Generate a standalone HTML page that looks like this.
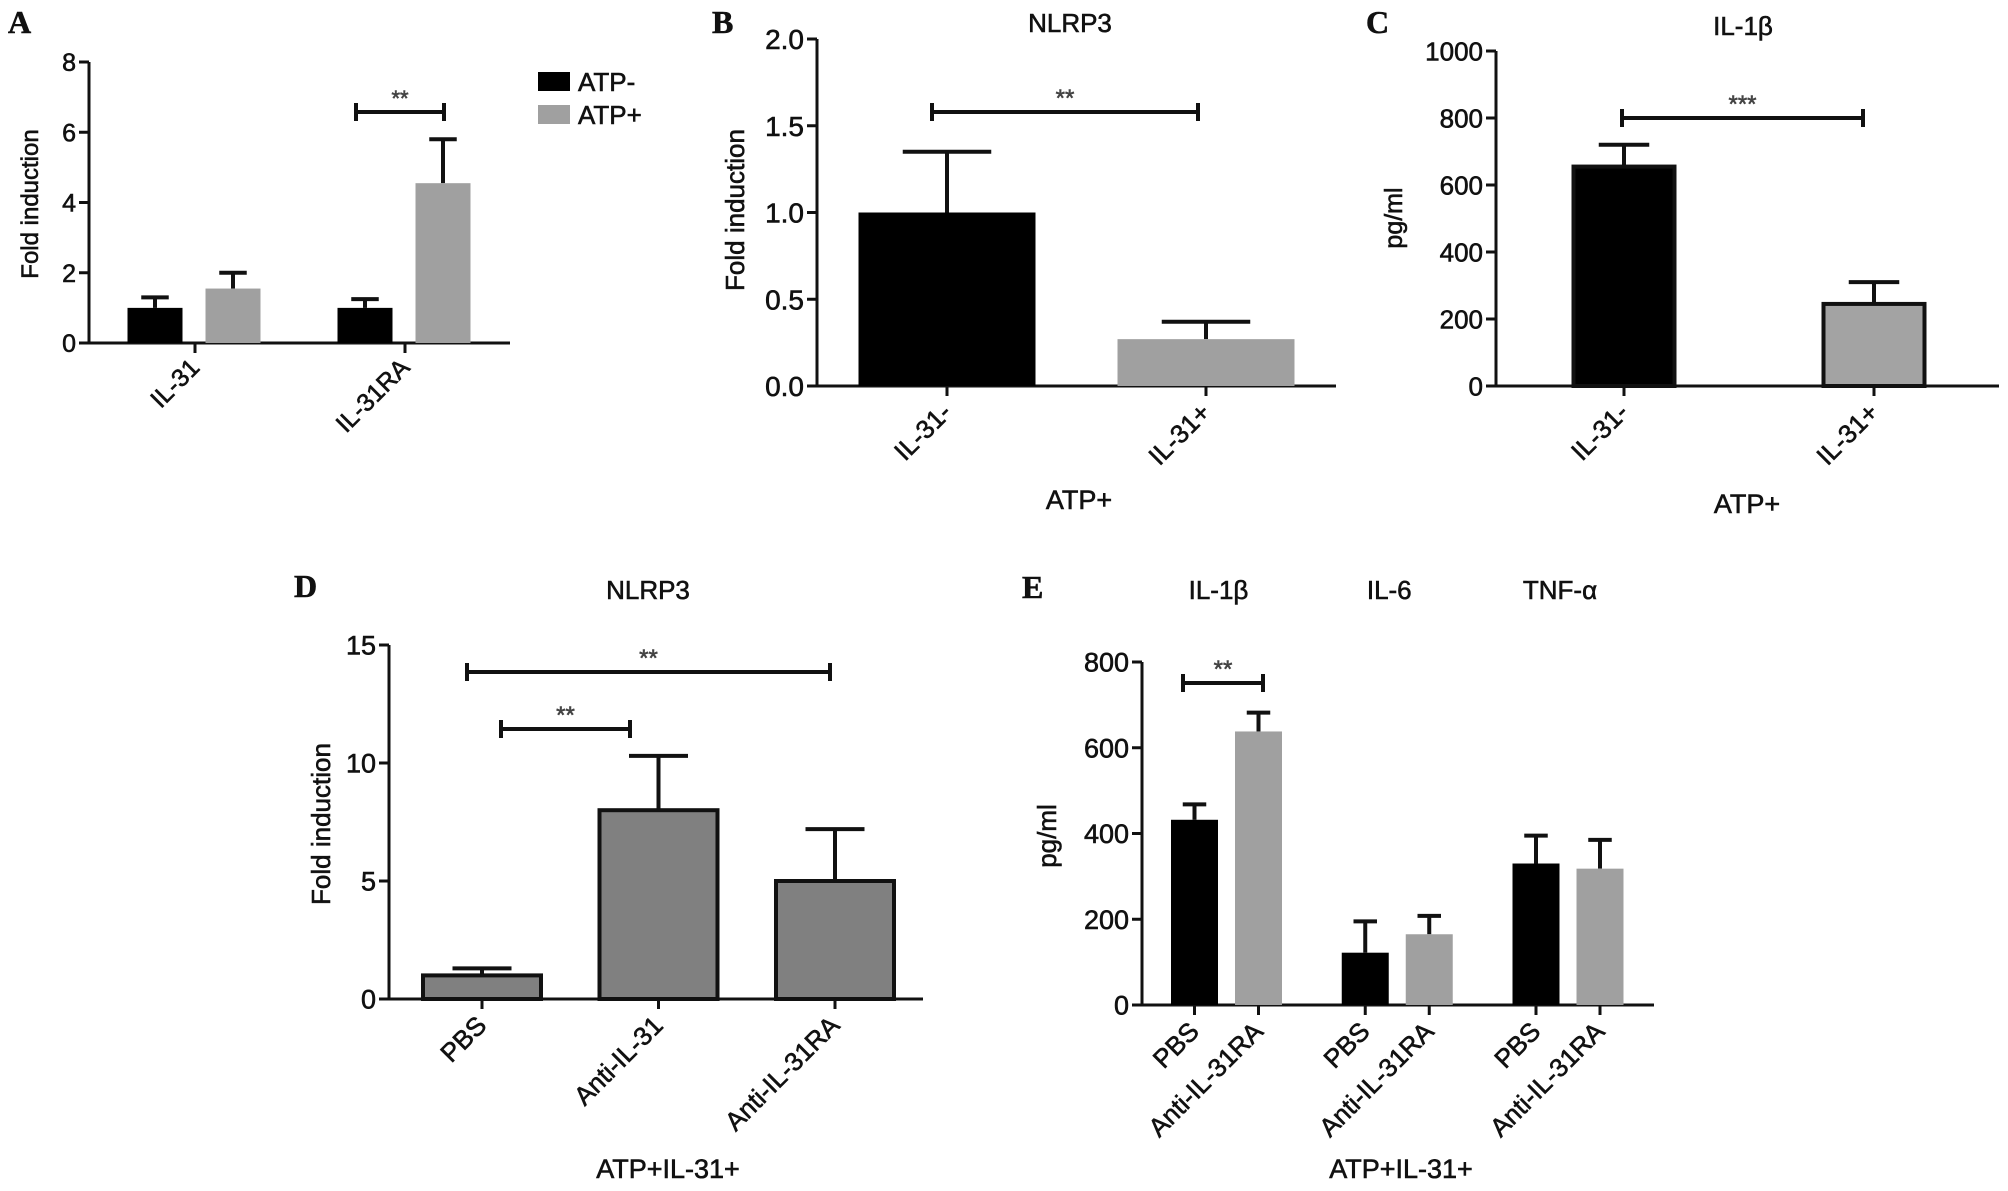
<!DOCTYPE html>
<html><head><meta charset="utf-8"><style>
html,body{margin:0;padding:0;background:#fff;}
svg{display:block;font-family:"Liberation Sans",Arial,sans-serif;}
svg text{stroke:#111;stroke-width:0.6px;}
</style></head><body>
<svg id="fig" width="2008" height="1191" viewBox="0 0 2008 1191" xmlns="http://www.w3.org/2000/svg"></svg>
<script>
// Panel A data
const aCategories = ["IL-31", "IL-31RA"];
const aSeries = ["ATP-", "ATP+"];
const aMinus = [1.0, 1.0];
const aMinusErr = [1.3, 1.25];
const aPlus = [1.55, 4.55];
const aPlusErr = [2.0, 5.8];
const aTicks = [0, 2, 4, 6, 8];
// Panel B data
const bCategories = ["IL-31-", "IL-31+"];
const bValues = [1.0, 0.27];
const bErr = [1.35, 0.37];
const bTicks = ["0.0", "0.5", "1.0", "1.5", "2.0"];
// Panel C data
const cCategories = ["IL-31-", "IL-31+"];
const cValues = [655, 245];
const cErr = [720, 310];
const cTicks = [0, 200, 400, 600, 800, 1000];
// Panel D data
const dCategories = ["PBS", "Anti-IL-31", "Anti-IL-31RA"];
const dValues = [1.0, 8.0, 5.0];
const dErr = [1.3, 10.3, 7.2];
const dTicks = [0, 5, 10, 15];
// Panel E data
const eGroups = ["IL-1β", "IL-6", "TNF-α"];
const eSubLabels = ["PBS", "Anti-IL-31RA"];
const ePBS = [432, 122, 330];
const ePBSErr = [468, 195, 395];
const eAnti = [638, 165, 318];
const eAntiErr = [682, 208, 385];
const eTicks = [0, 200, 400, 600, 800];

const NS = "http://www.w3.org/2000/svg";
const svg = document.getElementById("fig");
function mk(tag, attrs, parent, txt) {
  const e = document.createElementNS(NS, tag);
  for (const k in attrs) e.setAttribute(k, attrs[k]);
  if (txt !== undefined) e.textContent = txt;
  (parent || svg).appendChild(e);
  return e;
}
function scale(d0, d1, r0, r1) { return v => r0 + (v - d0) * (r1 - r0) / (d1 - d0); }

function axes(g, x0, y0, yTop, xEnd, ticks, y, fs, tickLabels) {
  const ya = mk("line", {x1: x0, y1: y0 + 1, x2: x0, y2: yTop, stroke: "#111", "stroke-width": 3}, g);
  
  
  const xa = mk("line", {x1: x0 - 10, y1: y0, x2: xEnd, y2: y0, stroke: "#111", "stroke-width": 3}, g);
  
  
  ticks.forEach((t, i) => {
    const v = parseFloat(t);
    const ty = y(v);
    const tl = mk("line", {x1: x0 - 10, y1: ty, x2: x0, y2: ty, stroke: "#111", "stroke-width": 3}, g);
    
    
    const lab = mk("text", {x: x0 - 13, y: ty + fs * 0.36, "text-anchor": "end", "font-size": fs, fill: "#111"}, g, tickLabels ? tickLabels[i] : String(t));
    
    
  });
}
function xtick(g, x, y0) {
  const t = mk("line", {x1: x, y1: y0, x2: x, y2: y0 + 10, stroke: "#111", "stroke-width": 3}, g);
  
  
}
function rotLabel(g, x, y, txt, fs, name) {
  const t = mk("text", {x: x, y: y, "text-anchor": "end", "font-size": fs, fill: "#111", transform: `rotate(-45 ${x} ${y})`}, g, txt);
  
  
}
function bar(g, cx, w, v, err, y, fill, border, name) {
  const top = y(v), base = y(0);
  const eb = mk("g", {}, g);
  
  
  mk("line", {x1: cx, y1: top, x2: cx, y2: y(err), stroke: "#111", "stroke-width": 4}, eb);
  mk("line", {x1: cx - w * 0.25, y1: y(err), x2: cx + w * 0.25, y2: y(err), stroke: "#111", "stroke-width": 4}, eb);
  const r = mk("rect", {x: cx - w / 2, y: top, width: w, height: base - top, fill: fill, stroke: border ? "#111" : "none", "stroke-width": border ? 4 : 0}, g);
  
  
}
function sig(g, x1, x2, yy, stars, fs) {
  const s = mk("g", {}, g);
  
  
  mk("line", {x1: x1, y1: yy, x2: x2, y2: yy, stroke: "#111", "stroke-width": 4}, s);
  mk("line", {x1: x1, y1: yy - 9, x2: x1, y2: yy + 9, stroke: "#111", "stroke-width": 4}, s);
  mk("line", {x1: x2, y1: yy - 9, x2: x2, y2: yy + 9, stroke: "#111", "stroke-width": 4}, s);
  const t = mk("text", {x: (x1 + x2) / 2, y: yy - 6, "text-anchor": "middle", "font-size": fs, fill: "#444", style: "stroke:#444"}, s, stars);
  
  
}
function text(g, x, y, txt, fs, name, opts) {
  const a = Object.assign({x: x, y: y, "text-anchor": "middle", "font-size": fs, fill: "#111"}, opts || {});
  const t = mk("text", a, g, txt);
  
  
  return t;
}
function letter(g, x, y, L) {
  const t = mk("text", {x: x, y: y, "font-size": 32, "font-weight": "bold", "font-family": "'Liberation Serif',serif", fill: "#111"}, g, L);
  
  
}
function ylabel(g, x, y, txt, fs) {
  const t = mk("text", {x: x, y: y, "text-anchor": "middle", "font-size": fs, fill: "#111", transform: `rotate(-90 ${x} ${y})`}, g, txt);
  
  
}

// ---------- Panel A ----------
(function () {
  const g = mk("g", {});
  
  
  const x0 = 89, y0 = 343, yTop = 62;
  const y = scale(0, 8, y0, yTop);
  letter(g, 8, 33, "A");
  axes(g, x0, y0, yTop, 510, aTicks, y, 25);
  ylabel(g, 38, 204, "Fold induction", 24);
  aCategories.forEach((c, i) => {
    const cx = 195 + i * 210;
    xtick(g, cx, y0);
    bar(g, cx - 40, 55, aMinus[i], aMinusErr[i], y, "#000", false, "bar-atp-minus-" + c.toLowerCase());
    bar(g, cx + 38, 55, aPlus[i], aPlusErr[i], y, "#a0a0a0", false, "bar-atp-plus-" + c.toLowerCase());
    rotLabel(g, cx + 6, y0 + 26, c, 25, "x-tick-label");
  });
  sig(g, 356, 444, 112, "**", 22);
  const colors = ["#000", "#a0a0a0"];
  aSeries.forEach((s, i) => {
    const le = mk("g", {}, g);
    
    
    mk("rect", {x: 538, y: 72 + i * 33, width: 32, height: 19, fill: colors[i]}, le);
    text(le, 578, 91 + i * 33, s, 26, "legend-label", {"text-anchor": "start"});
  });
})();

// ---------- Panel B ----------
(function () {
  const g = mk("g", {});
  
  
  const x0 = 817, y0 = 386, yTop = 39;
  const y = scale(0, 2, y0, yTop);
  letter(g, 712, 33, "B");
  text(g, 1070, 32, "NLRP3", 26, "chart-title");
  axes(g, x0, y0, yTop, 1336, bTicks, y, 28, bTicks);
  ylabel(g, 744, 210, "Fold induction", 26);
  const fills = ["#000", "#a0a0a0"];
  bCategories.forEach((c, i) => {
    const cx = 947 + i * 259;
    xtick(g, cx, y0);
    bar(g, cx, 177, bValues[i], bErr[i], y, fills[i], false, "bar-" + c.toLowerCase());
    rotLabel(g, cx + 6, y0 + 28, c, 26, "x-tick-label");
  });
  sig(g, 932, 1198, 112, "**", 24);
  text(g, 1079, 509, "ATP+", 27, "x-axis-title");
})();

// ---------- Panel C ----------
(function () {
  const g = mk("g", {});
  
  
  const x0 = 1496, y0 = 386, yTop = 51;
  const y = scale(0, 1000, y0, yTop);
  letter(g, 1366, 33, "C");
  text(g, 1743, 35, "IL-1β", 26, "chart-title");
  axes(g, x0, y0, yTop, 1999, cTicks, y, 26);
  ylabel(g, 1402, 218, "pg/ml", 25);
  const fills = ["#000", "#a3a3a3"];
  cCategories.forEach((c, i) => {
    const cx = 1624 + i * 250;
    xtick(g, cx, y0);
    bar(g, cx, 101, cValues[i], cErr[i], y, fills[i], true, "bar-" + c.toLowerCase());
    rotLabel(g, cx + 6, y0 + 28, c, 26, "x-tick-label");
  });
  sig(g, 1622, 1863, 118, "***", 24);
  text(g, 1747, 513, "ATP+", 27, "x-axis-title");
})();

// ---------- Panel D ----------
(function () {
  const g = mk("g", {});
  
  
  const x0 = 389, y0 = 999, yTop = 645;
  const y = scale(0, 15, y0, yTop);
  letter(g, 294, 597, "D");
  text(g, 648, 599, "NLRP3", 26, "chart-title");
  axes(g, x0, y0, yTop, 923, dTicks, y, 27);
  ylabel(g, 330, 824, "Fold induction", 26);
  dCategories.forEach((c, i) => {
    const cx = 482 + i * 176.5;
    xtick(g, cx, y0);
    bar(g, cx, 118, dValues[i], dErr[i], y, "#808080", true, "bar-" + c.toLowerCase());
    rotLabel(g, cx + 6, y0 + 28, c, 26, "x-tick-label");
  });
  sig(g, 467, 830, 672, "**", 24);
  sig(g, 501, 630, 729, "**", 24);
  text(g, 668, 1178, "ATP+IL-31+", 27, "x-axis-title");
})();

// ---------- Panel E ----------
(function () {
  const g = mk("g", {});
  
  
  const x0 = 1142, y0 = 1005, yTop = 662;
  const y = scale(0, 800, y0, yTop);
  letter(g, 1022, 598, "E");
  axes(g, x0, y0, yTop, 1654, eTicks, y, 27);
  ylabel(g, 1056, 836, "pg/ml", 26);
  eGroups.forEach((grp, i) => {
    const gc = 1226.5 + i * 170.75;
    text(g, gc - 8, 599, grp, 26, "group-title");
    const xs = [gc - 32, gc + 32];
    xs.forEach(x => xtick(g, x, y0));
    bar(g, xs[0], 47, ePBS[i], ePBSErr[i], y, "#000", false, "bar-pbs-" + grp.toLowerCase());
    bar(g, xs[1], 47, eAnti[i], eAntiErr[i], y, "#a0a0a0", false, "bar-anti-il-31ra-" + grp.toLowerCase());
    rotLabel(g, xs[0] + 6, y0 + 28, eSubLabels[0], 26, "x-tick-label");
    rotLabel(g, xs[1] + 6, y0 + 28, eSubLabels[1], 26, "x-tick-label");
  });
  sig(g, 1183, 1263, 683, "**", 24);
  text(g, 1401, 1178, "ATP+IL-31+", 27, "x-axis-title");
})();
</script>
</body></html>
